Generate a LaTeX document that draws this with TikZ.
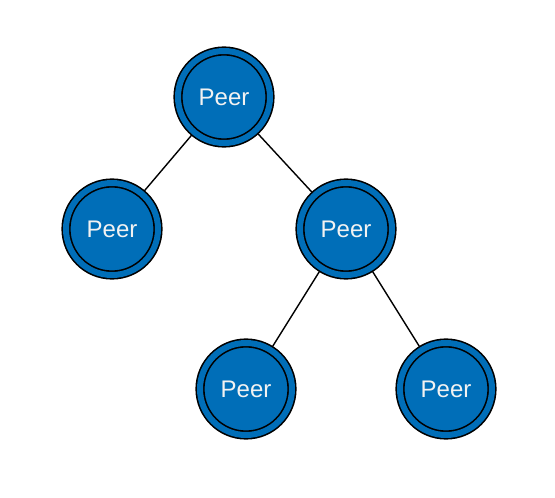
\documentclass[tikz,border=0pt]{standalone}
\usepackage{fontspec}
\setmainfont{Liberation Sans}
\usepackage{tikz}
\usetikzlibrary{positioning}
\definecolor{peerblue}{RGB}{0, 110, 184}
\definecolor{peertext}{RGB}{242, 242, 242}

\begin{document}
\begin{tikzpicture}[node distance=132pt, every node/.style={circle, draw=black, line width=1.6pt, fill=peerblue, double=peerblue, double distance=6pt, minimum size=92pt, inner sep=0pt, outer sep=4pt, text=peertext, font=\fontsize{24}{28}\selectfont}]
        \useasboundingbox (0,0) rectangle (555pt,-498pt);
        \node (peerT) at (224pt,-97pt) {Peer};
        \node (peerL) [below of=peerT, xshift=-112pt] {Peer};
        \node (peerR) [below of=peerT, xshift=122pt] {Peer};
        \node (peerBL) [below of=peerR, yshift=-28pt, xshift=-100pt] {Peer};
        \node (peerBR) [below of=peerR, yshift=-28pt, xshift=100pt] {Peer};

        \draw[line width=1.4pt] (peerT) -- (peerL);
        \draw[line width=1.4pt] (peerT) -- (peerR);
        \draw[line width=1.4pt] (peerR) -- (peerBL);
        \draw[line width=1.4pt] (peerR) -- (peerBR);
    \end{tikzpicture}
\end{document}
